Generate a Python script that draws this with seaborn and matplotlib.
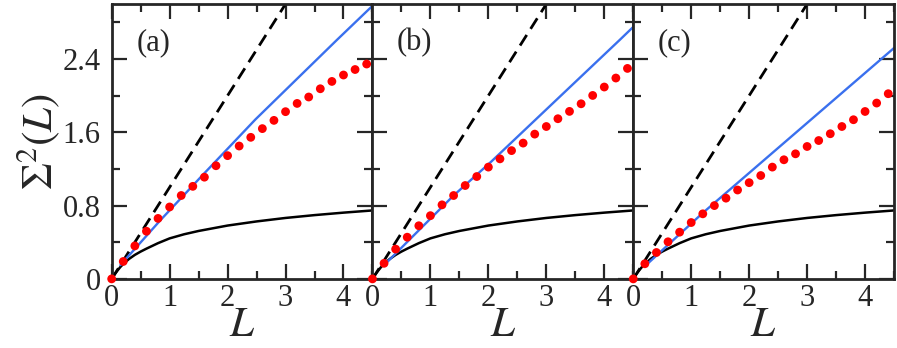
import numpy as np
import seaborn as sns
import matplotlib.pyplot as plt
from matplotlib.ticker import MultipleLocator

sns.set_style("ticks")
plt.rcParams['font.family'] = 'serif'
plt.rcParams['font.serif'] = ['Liberation Serif', 'DejaVu Serif']
plt.rcParams['mathtext.fontset'] = 'stix'

# data
L_dots = [0, 0.2, 0.4, 0.6, 0.8, 1.0, 1.2, 1.4, 1.6, 1.8, 2.0, 2.2,
          2.4, 2.6, 2.8, 3.0, 3.2, 3.4, 3.6, 3.8, 4.0, 4.2, 4.4]
sigma_a = [0, 0.19, 0.36, 0.52, 0.66, 0.785, 0.91, 1.01, 1.11, 1.235, 1.345, 1.45,
           1.545, 1.64, 1.73, 1.825, 1.915, 1.985, 2.075, 2.155, 2.225, 2.285, 2.345]
sigma_b = [0, 0.17, 0.325, 0.455, 0.58, 0.69, 0.808, 0.91, 1.019, 1.117, 1.22, 1.31,
           1.40, 1.482, 1.58, 1.663, 1.748, 1.828, 1.911, 2.002, 2.094, 2.192, 2.297]
sigma_c = [0, 0.165, 0.288, 0.405, 0.51, 0.615, 0.71, 0.80, 0.881, 0.97, 1.05, 1.128,
           1.22, 1.30, 1.365, 1.445, 1.51, 1.584, 1.663, 1.737, 1.827, 1.919, 2.021]

# GOE reference curve (black solid)
goe_L = [0, 0.05, 0.1, 0.15, 0.2, 0.3, 0.4, 0.5, 0.6, 0.8, 1.0, 1.25,
         1.5, 2.0, 2.5, 3.0, 3.5, 4.0, 4.5]
goe_sigma = [0, 0.048, 0.091, 0.13, 0.163, 0.218, 0.262, 0.298, 0.33, 0.39, 0.442, 0.487,
             0.523, 0.582, 0.627, 0.665, 0.696, 0.723, 0.747]

# Poisson line (black dashed)
poisson_L = [0, 3.2]
poisson_sigma = [0, 3.2]

# linear fits (blue)
blue_L = {"a": [0.15, 0.84, 1.55, 2.48, 3.89, 4.5],
          "b": [0.2, 1.4, 2.05, 4.27, 4.5],
          "c": [0.22, 1.2, 4.5]}
blue_sigma = {"a": [0.15, 0.64, 1.12, 1.74, 2.61, 2.98],
              "b": [0.15, 0.91, 1.28, 2.61, 2.75],
              "c": [0.15, 0.72, 2.52]}

panels = ["a", "b", "c"]
dots = {"a": sigma_a, "b": sigma_b, "c": sigma_c}

xticks = [0, 1, 2, 3, 4]
xtick_labels = ["0", "1", "2", "3", "4"]
yticks = [0, 0.8, 1.6, 2.4]
ytick_labels = ["0", "0.8", "1.6", "2.4"]

blue = "#3a70ee"

fig, axes = plt.subplots(1, 3, figsize=(8.97, 3.48), dpi=100, sharey=True)
fig.subplots_adjust(left=0.1245, right=0.9967, bottom=0.1986, top=0.9885, wspace=0)

for ax, p in zip(axes, panels):
    sns.lineplot(x=poisson_L, y=poisson_sigma, ax=ax, color="black", lw=2.0,
                 linestyle=(0, (4.5, 2.6)), sort=False, estimator=None)
    sns.lineplot(x=goe_L, y=goe_sigma, ax=ax, color="black", lw=1.8,
                 sort=False, estimator=None)
    sns.lineplot(x=blue_L[p], y=blue_sigma[p], ax=ax, color=blue, lw=1.7,
                 sort=False, estimator=None)
    sns.scatterplot(x=L_dots, y=dots[p], ax=ax, color="red", s=40,
                    edgecolor="none", linewidth=0, clip_on=False, zorder=5)

    ax.set_xlim(0, 4.5)
    ax.set_ylim(0, 3.0)
    ax.set_xticks(xticks)
    ax.set_xticklabels(xtick_labels)
    ax.xaxis.set_minor_locator(MultipleLocator(0.5))
    ax.yaxis.set_minor_locator(MultipleLocator(0.4))
    ax.tick_params(which="both", direction="in", top=True, right=True,
                   width=1.6, labelsize=22)
    ax.tick_params(which="major", length=11)
    ax.tick_params(which="minor", length=6)
    ax.tick_params(axis="x", pad=4)
    ax.tick_params(axis="y", pad=8)
    for s in ax.spines.values():
        s.set_linewidth(2.0)
    ax.set_xlabel("$L$", fontsize=31, labelpad=-5)
    ax.text(0.16, 0.86, "(" + p + ")", transform=ax.transAxes,
            fontsize=22, ha="center", va="center")

axes[0].set_yticks(yticks)
axes[0].set_yticklabels(ytick_labels)
axes[0].set_ylabel(r"$\Sigma^2(L)$", fontsize=31, labelpad=0)
for ax in axes[1:]:
    ax.tick_params(labelleft=False)
    ax.set_ylabel("")

plt.savefig("out.png", dpi=100)
